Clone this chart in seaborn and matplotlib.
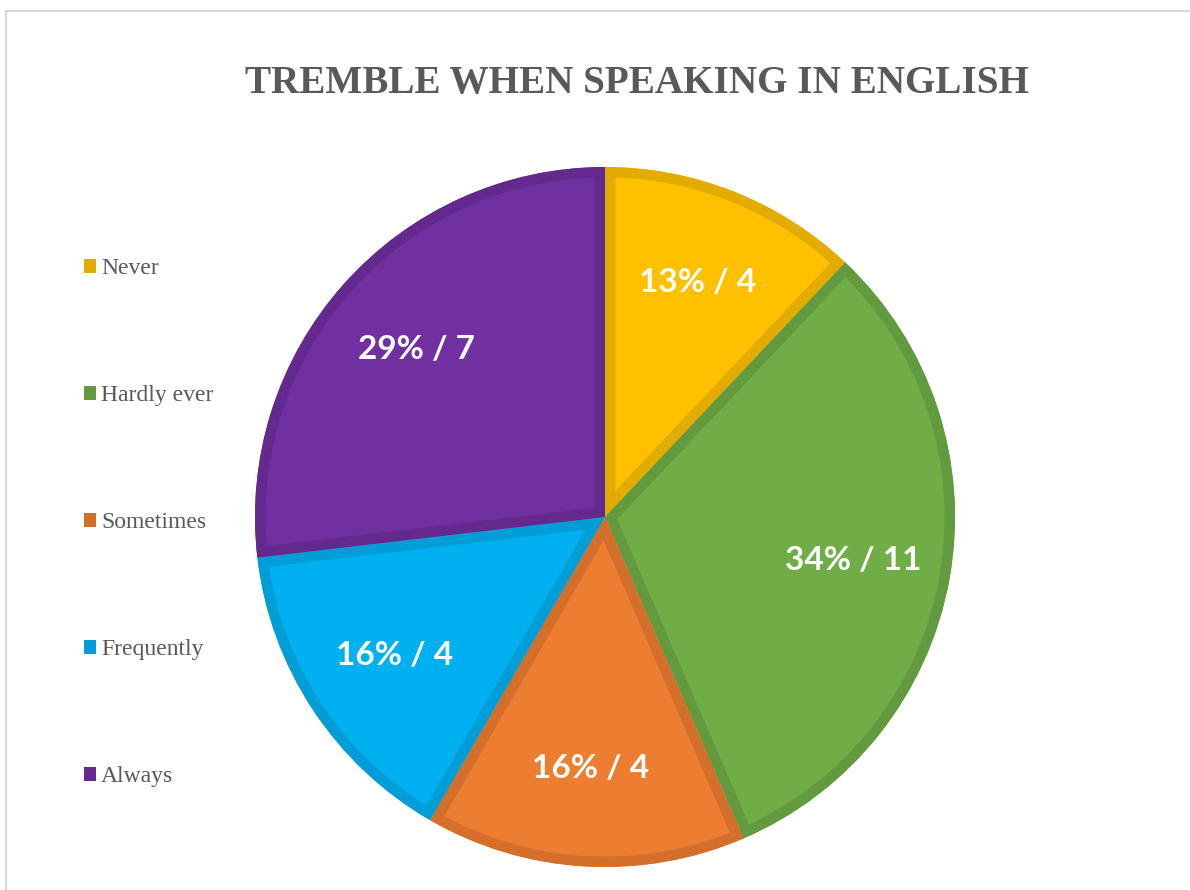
import matplotlib
matplotlib.use("Agg")
import matplotlib.pyplot as plt
from matplotlib.patches import Patch, PathPatch, Rectangle
import seaborn as sns

# Survey answers: "Tremble when speaking in English"
categories = ["Never", "Hardly ever", "Sometimes", "Frequently", "Always"]
percentages = [13, 34, 16, 16, 29]
counts = [4, 11, 4, 4, 7]

face_colors = ["#FFC000", "#70AD47", "#ED7D31", "#00B0F0", "#7030A0"]
edge_colors = ["#E3AC00", "#639A3F", "#D46F2B", "#019DD6", "#63298E"]

sns.set_theme(style="white")
plt.rcParams["font.family"] = ["Liberation Serif", "DejaVu Serif"]

W, H, DPI = 1190, 890, 100
fig = plt.figure(figsize=(W / DPI, H / DPI), dpi=DPI)
fig.patch.set_facecolor("white")

# chart frame (top and left edges visible)
fig.add_artist(Rectangle((6 / W, -0.2), 1.3, (H - 11) / H + 0.2,
                         transform=fig.transFigure, fill=False,
                         edgecolor="#D9D9D9", linewidth=1.6, clip_on=False))

# pie area: centre (605, 517) px, radius 350 px
cx, cy, r = 605, 517, 350
ax = fig.add_axes([(cx - r) / W, (H - cy - r) / H, 2 * r / W, 2 * r / H])

labels = [f"{p}% / {n}" for p, n in zip(percentages, counts)]
wedges, texts = ax.pie(
    percentages, radius=1, startangle=90, counterclock=False,
    colors=face_colors, labels=labels, labeldistance=0.72,
    wedgeprops=dict(linewidth=0), frame=False,
    textprops=dict(color="white", fontsize=24, fontweight="bold",
                   family=["Lato", "DejaVu Sans"], ha="center", va="center"),
)
ax.set_xlim(-1, 1)
ax.set_ylim(-1, 1)
ax.set_aspect("equal")
ax.axis("off")

# darker border drawn inside each slice
for w, ec in zip(wedges, edge_colors):
    border = PathPatch(w.get_path(), transform=w.get_transform(),
                       facecolor="none", edgecolor=ec, linewidth=15,
                       joinstyle="miter", zorder=w.get_zorder() + 0.1)
    ax.add_patch(border)
    border.set_clip_path(w.get_path(), w.get_transform())
for t in texts:
    t.set_zorder(5)

fig.text(637 / W, 1 - 84 / H, "TREMBLE WHEN SPEAKING IN ENGLISH",
         ha="center", va="center", fontsize=28.2, fontweight="bold",
         color="#595959")

handles = [Patch(facecolor=ec, edgecolor="none") for ec in edge_colors]
fig.legend(handles, categories, loc="upper left",
           bbox_to_anchor=(84 / W, 1 - 258 / H), frameon=False,
           fontsize=17, labelcolor="#595959", handlelength=0.52,
           handleheight=0.52, handletextpad=0.2, labelspacing=4.49,
           borderpad=0, borderaxespad=0)

fig.savefig("out.png", dpi=DPI, facecolor="white")
